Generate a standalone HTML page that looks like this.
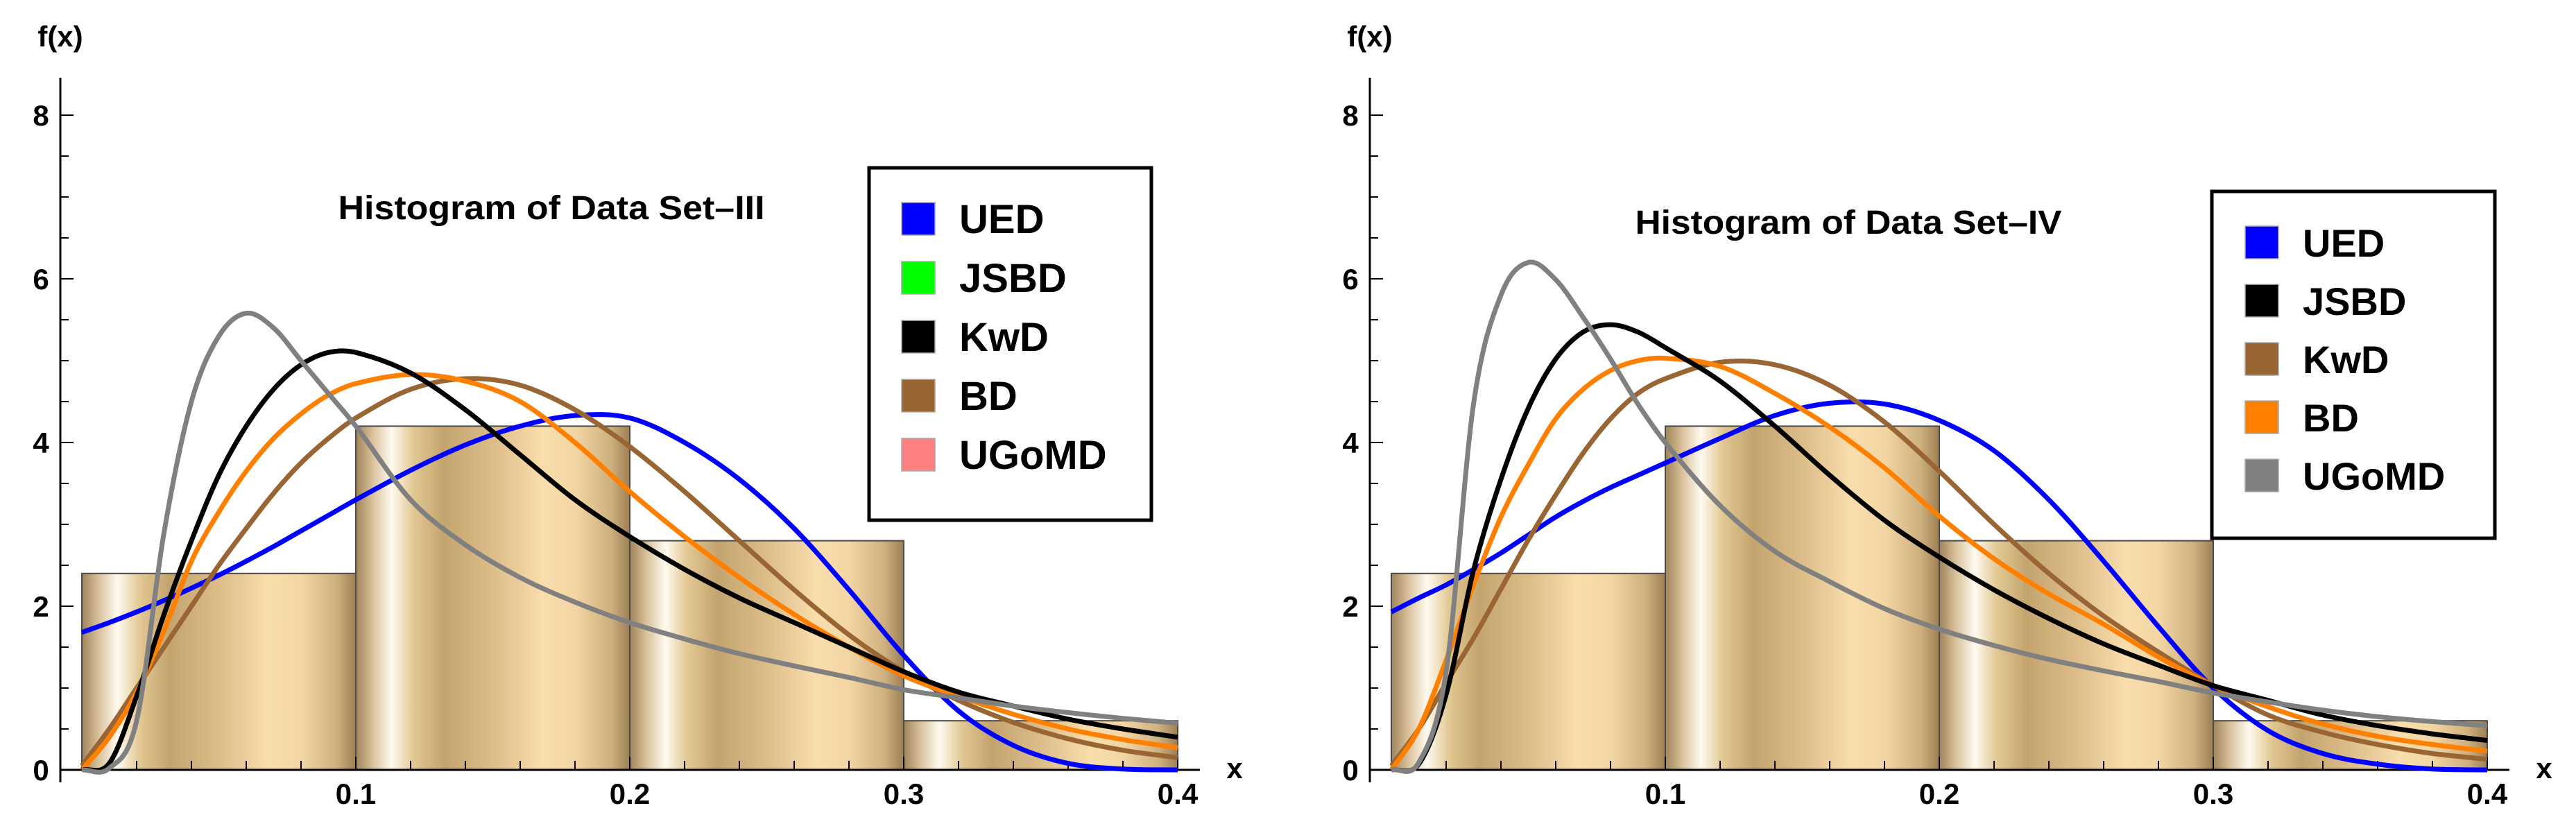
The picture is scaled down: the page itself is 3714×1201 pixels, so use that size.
<!DOCTYPE html>
<html><head><meta charset="utf-8"><style>
html,body{margin:0;padding:0;background:#fff;}
svg{display:block;font-family:"Liberation Sans",Arial,sans-serif;}
</style></head><body>
<svg id="fig" width="3714" height="1201" viewBox="0 0 3714 1201" xmlns="http://www.w3.org/2000/svg">
<defs>
<linearGradient id="barGrad" x1="0" y1="0" x2="1" y2="0">
<stop offset="0" stop-color="#a08358"/>
<stop offset="0.06" stop-color="#d8c09a"/>
<stop offset="0.13" stop-color="#fffaf0"/>
<stop offset="0.21" stop-color="#e2c894"/>
<stop offset="0.32" stop-color="#c4a46e"/>
<stop offset="0.5" stop-color="#dcbd8a"/>
<stop offset="0.68" stop-color="#f9ddac"/>
<stop offset="0.8" stop-color="#f3d6a4"/>
<stop offset="0.93" stop-color="#cfb07f"/>
<stop offset="1" stop-color="#9c7f55"/>
</linearGradient>
</defs>
</svg>
<script>
// ---- shared data ----
var binEdges = [0, 0.1, 0.2, 0.3, 0.4];
var xTickLabels = ["0.1", "0.2", "0.3", "0.4"];
var xTickValues = [0.1, 0.2, 0.3, 0.4];
var yTickValues = [0, 2, 4, 6, 8];
var yTickLabels = ["0", "2", "4", "6", "8"];
var sampleX = [0,0.01,0.02,0.03,0.04,0.05,0.06,0.07,0.08,0.09,0.10,0.12,0.14,0.16,0.18,0.20,0.22,0.24,0.26,0.28,0.30,0.32,0.34,0.36,0.38,0.40];

// ---- Data Set III ----
var binHeights3 = [2.4, 4.2, 2.8, 0.6];
var blue3   = [1.68,1.8,1.93,2.07,2.22,2.38,2.55,2.73,2.92,3.11,3.3,3.66,3.97,4.2,4.33,4.3,4.0,3.55,2.95,2.2,1.4,0.72,0.3,0.08,0.01,0];
var brown3  = [0.05,0.5,1.0,1.5,2.0,2.5,2.95,3.38,3.75,4.05,4.3,4.65,4.78,4.7,4.4,3.95,3.4,2.8,2.2,1.65,1.2,0.85,0.58,0.38,0.24,0.15];
var orange3 = [0,0.4,0.95,1.7,2.55,3.15,3.65,4.05,4.35,4.58,4.72,4.83,4.75,4.5,4.0,3.4,2.85,2.35,1.9,1.5,1.15,0.9,0.68,0.5,0.37,0.27];
var black3  = [0,0.08,0.9,1.9,2.8,3.6,4.2,4.65,4.95,5.1,5.1,4.85,4.4,3.85,3.3,2.85,2.45,2.1,1.8,1.5,1.2,0.95,0.78,0.62,0.5,0.4];
var grey3   = [0,0.02,0.6,2.9,4.5,5.3,5.58,5.4,5.0,4.6,4.2,3.3,2.75,2.35,2.05,1.8,1.6,1.42,1.27,1.13,0.98,0.88,0.78,0.7,0.63,0.57];
var legend3Labels = ["UED","JSBD","KwD","BD","UGoMD"];
var legend3Colors = ["#0000ff","#00ff00","#000000","#996633","#ff8080"];

// ---- Data Set IV ----
var binHeights4 = [2.4, 4.2, 2.8, 0.6];
var blue4   = [1.93,2.1,2.26,2.45,2.65,2.87,3.09,3.28,3.45,3.6,3.75,4.05,4.33,4.48,4.47,4.27,3.9,3.3,2.55,1.75,1.0,0.48,0.2,0.07,0.01,0];
var brown4  = [0.05,0.5,1.06,1.61,2.21,2.81,3.36,3.87,4.29,4.6,4.78,4.98,4.95,4.7,4.25,3.65,3.0,2.4,1.88,1.44,1.03,0.67,0.46,0.31,0.2,0.13];
var orange4 = [0,0.5,1.34,2.26,3.09,3.73,4.29,4.65,4.88,5.0,5.03,4.93,4.6,4.19,3.69,3.1,2.58,2.15,1.78,1.38,1.03,0.77,0.56,0.41,0.31,0.23];
var black4  = [0,0.07,0.92,2.44,3.55,4.42,5.02,5.35,5.44,5.35,5.16,4.75,4.2,3.6,3.05,2.6,2.2,1.85,1.54,1.28,1.03,0.85,0.67,0.54,0.44,0.36];
var grey4   = [0,0.09,1.2,4.47,5.8,6.2,5.99,5.53,5.02,4.47,4.0,3.23,2.67,2.3,1.97,1.72,1.52,1.35,1.21,1.08,0.94,0.83,0.73,0.65,0.59,0.54];
var legend4Labels = ["UED","JSBD","KwD","BD","UGoMD"];
var legend4Colors = ["#0000ff","#000000","#996633","#ff8000","#808080"];

var NS = "http://www.w3.org/2000/svg";
var svg = document.getElementById("fig");
function mk(tag, attrs, parent) {
  var e = document.createElementNS(NS, tag);
  for (var k in attrs) e.setAttribute(k, attrs[k]);
  (parent || svg).appendChild(e);
  return e;
}
function smoothPath(pts) {
  var n = pts.length, m = [];
  for (var i = 0; i < n; i++) {
    var a = pts[Math.max(0, i - 1)], b = pts[Math.min(n - 1, i + 1)];
    m.push((b[1] - a[1]) / (b[0] - a[0]));
  }
  var d = "M" + pts[0][0].toFixed(1) + "," + pts[0][1].toFixed(1);
  for (var j = 0; j < n - 1; j++) {
    var p1 = pts[j], p2 = pts[j + 1], dx = (p2[0] - p1[0]) / 3;
    d += " C" + (p1[0] + dx).toFixed(1) + "," + (p1[1] + m[j] * dx).toFixed(1) + " " + (p2[0] - dx).toFixed(1) + "," + (p2[1] - m[j + 1] * dx).toFixed(1) + " " + p2[0].toFixed(1) + "," + p2[1].toFixed(1);
  }
  return d;
}

function drawChart(cfg) {
  var g = mk("g", {});
  
  
  var X = function (v) { return cfg.x0 + v * 3950; };
  var Y = function (v) { return 1110 - v * 118; };

  for (var i = 0; i < cfg.bins.length; i++) {
    var r = mk("rect", {x: X(binEdges[i]), y: Y(cfg.bins[i]), width: X(binEdges[i + 1]) - X(binEdges[i]), height: Y(0) - Y(cfg.bins[i]), fill: "url(#barGrad)", stroke: "#4a4a4a", "stroke-width": 2}, g);
    
    
  }

  var ax = cfg.x0 - 31;
  var yAxis = mk("line", {x1: ax, y1: 112, x2: ax, y2: 1128, stroke: "#000", "stroke-width": 3}, g);
  
  
  var xAxis = mk("line", {x1: ax, y1: 1110, x2: X(0.4) + 32, y2: 1110, stroke: "#000", "stroke-width": 3}, g);
  
  

  for (var t = 0; t <= 16; t++) {
    var v = t * 0.5, major = (t % 4 === 0);
    mk("line", {x1: ax, y1: Y(v), x2: ax + (major ? 19 : 12), y2: Y(v), stroke: "#000", "stroke-width": 2}, g);
  }
  for (var j = 0; j < yTickValues.length; j++) {
    var yl = mk("text", {x: ax - 28, y: Y(yTickValues[j]) + 15, "text-anchor": "middle", "font-size": 42, "font-weight": "bold"}, g);
    yl.textContent = yTickLabels[j];
    
    
  }
  for (var k = 1; k <= 20; k++) {
    var xv = k * 0.02, maj = (k % 5 === 0);
    mk("line", {x1: X(xv), y1: 1110, x2: X(xv), y2: 1110 - (maj ? 19 : 13), stroke: "#000", "stroke-width": 2}, g);
  }
  for (var mm = 0; mm < xTickValues.length; mm++) {
    var xl = mk("text", {x: X(xTickValues[mm]), y: 1159, "text-anchor": "middle", "font-size": 42, "font-weight": "bold"}, g);
    xl.textContent = xTickLabels[mm];
    
    
  }
  var fx = mk("text", {x: ax, y: 67, "text-anchor": "middle", "font-size": 42, "font-weight": "bold"}, g);
  fx.textContent = "f(x)";
  
  
  var xt = mk("text", {x: X(0.4) + 82, y: 1122, "text-anchor": "middle", "font-size": 42, "font-weight": "bold"}, g);
  xt.textContent = "x";
  
  

  for (var s = 0; s < cfg.series.length; s++) {
    var ys = cfg.series[s].values, pts = [];
    for (var q = 0; q < sampleX.length; q++) pts.push([X(sampleX[q]), Y(ys[q])]);
    var p = mk("path", {d: smoothPath(pts), fill: "none", stroke: cfg.series[s].color, "stroke-width": 7, "stroke-linejoin": "round", "stroke-linecap": "butt"}, g);
    
    
  }

  var tt = mk("text", {x: cfg.titleX, y: cfg.titleY, "text-anchor": "middle", "font-size": 48, "font-weight": "bold", textLength: 615, lengthAdjust: "spacingAndGlyphs"}, g);
  tt.textContent = cfg.title;
  
  

  var L = cfg.legend;
  var lb = mk("rect", {x: L.x, y: L.y, width: L.w, height: L.h, fill: "#fff", stroke: "#000", "stroke-width": 5}, g);
  
  
  for (var n = 0; n < cfg.legendLabels.length; n++) {
    var cy = L.y + L.first + n * L.step;
    var sw = mk("rect", {x: L.x + L.sx, y: cy - 24, width: 48, height: 47, fill: cfg.legendColors[n], stroke: "#aaa", "stroke-width": 1.5}, g);
    
    
    var lt = mk("text", {x: L.x + L.tx, y: cy + 20, "font-size": L.fs, "font-weight": "bold"}, g);
    lt.textContent = cfg.legendLabels[n];
    
    
  }
}

drawChart({
  name: "chart-data-set-iii", x0: 118,
  bins: binHeights3,
  series: [
    {name: "curve-blue", color: "#0000ff", values: blue3},
    {name: "curve-brown", color: "#996633", values: brown3},
    {name: "curve-orange", color: "#ff8000", values: orange3},
    {name: "curve-black", color: "#000000", values: black3},
    {name: "curve-grey", color: "#808080", values: grey3}
  ],
  title: "Histogram of Data Set\u2013III", titleX: 795, titleY: 316,
  legend: {x: 1253, y: 242, w: 407, h: 508, first: 74, step: 85, sx: 47, tx: 130, fs: 58},
  legendLabels: legend3Labels, legendColors: legend3Colors
});
drawChart({
  name: "chart-data-set-iv", x0: 2006,
  bins: binHeights4,
  series: [
    {name: "curve-blue", color: "#0000ff", values: blue4},
    {name: "curve-brown", color: "#996633", values: brown4},
    {name: "curve-orange", color: "#ff8000", values: orange4},
    {name: "curve-black", color: "#000000", values: black4},
    {name: "curve-grey", color: "#808080", values: grey4}
  ],
  title: "Histogram of Data Set\u2013IV", titleX: 2665, titleY: 337,
  legend: {x: 3189, y: 276, w: 408, h: 500, first: 74, step: 84, sx: 48, tx: 131, fs: 56},
  legendLabels: legend4Labels, legendColors: legend4Colors
});
</script>
</body></html>
